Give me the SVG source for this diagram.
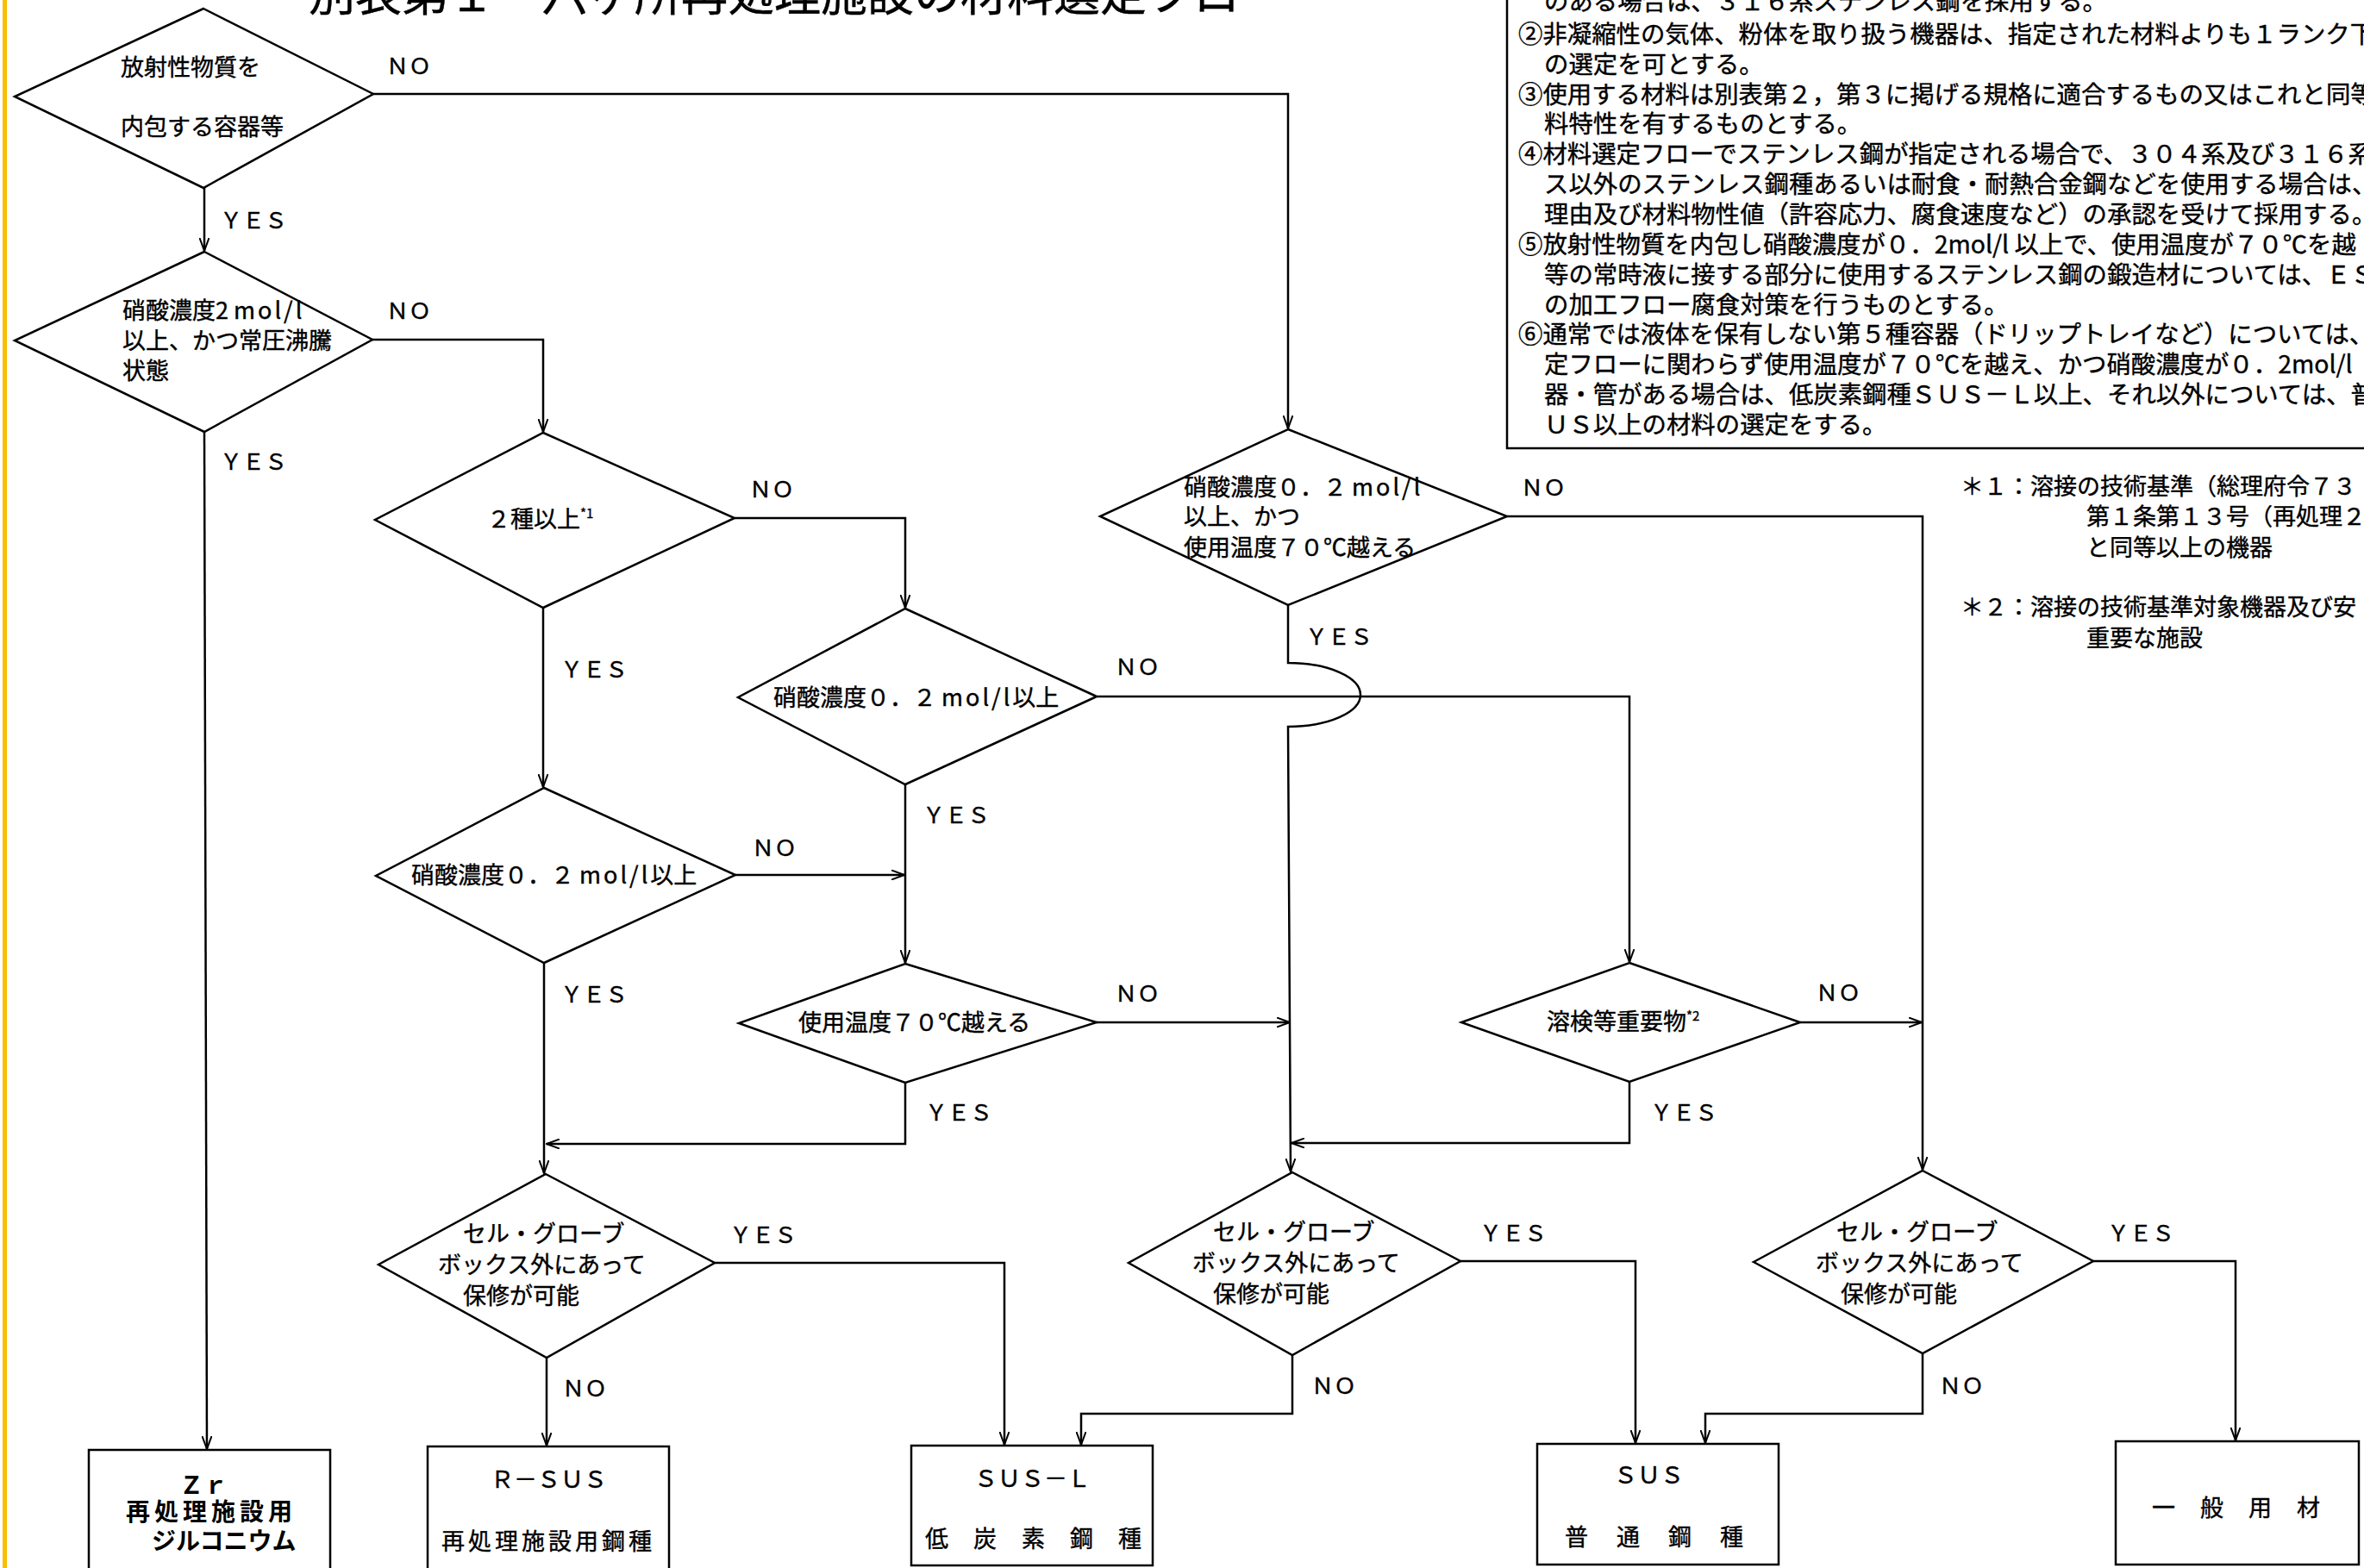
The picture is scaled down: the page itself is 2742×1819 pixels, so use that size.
<svg xmlns="http://www.w3.org/2000/svg" width="2742" height="1819" viewBox="0 0 2742 1819">
<style>
text{font-family:"Noto Sans CJK JP","Noto Sans CJK SC",sans-serif;fill:#000;font-size:27px;stroke:#000;stroke-width:0.4}
.d{fill:#fff;stroke:#000;stroke-width:2.5;stroke-linejoin:miter}
.b{fill:#fff;stroke:#000;stroke-width:2.5}
.c{fill:none;stroke:#000;stroke-width:2.5}
.ca{fill:none;stroke:#000;stroke-width:2.5;marker-end:url(#ah)}
.n{font-size:28.4px}
.l{font-size:26px}
.t{font-size:54px}
.sup{font-size:15px}
.ls{letter-spacing:3px}
.zr{font-size:28px;font-weight:bold;stroke-width:0}
</style>
<defs>
<marker id="ah" viewBox="0 0 16 12" refX="15" refY="6" markerWidth="16" markerHeight="12" orient="auto" markerUnits="userSpaceOnUse">
<path d="M0,0.5 L15,6 L0,11.5" fill="none" stroke="#000" stroke-width="2"/>
</marker>
</defs>
<rect x="0" y="0" width="2742" height="1819" fill="#fff"/>
<rect x="3" y="0" width="5" height="1819" fill="#F9BE00"/>

<g id="title"><text class="t" x="358" y="13">別表第１　六ヶ所再処理施設の材料選定フロー</text></g>

<g id="notes">
<rect class="b" x="1748" y="-5" width="1100" height="525"/>
<text class="n" x="1791" y="12">のある場合は、３１６系ステンレス鋼を採用する。</text>
<text class="n" x="1761" y="50">②非凝縮性の気体、粉体を取り扱う機器は、指定された材料よりも１ランク下</text>
<text class="n" x="1791" y="85">の選定を可とする。</text>
<text class="n" x="1761" y="120">③使用する材料は別表第２，第３に掲げる規格に適合するもの又はこれと同等</text>
<text class="n" x="1791" y="154">料特性を有するものとする。</text>
<text class="n" x="1761" y="189">④材料選定フローでステンレス鋼が指定される場合で、３０４系及び３１６系</text>
<text class="n" x="1791" y="224">ス以外のステンレス鋼種あるいは耐食・耐熱合金鋼などを使用する場合は、</text>
<text class="n" x="1791" y="259">理由及び材料物性値（許容応力、腐食速度など）の承認を受けて採用する。</text>
<text class="n" x="1761" y="294">⑤放射性物質を内包し硝酸濃度が０．2mol/l 以上で、使用温度が７０℃を越</text>
<text class="n" x="1791" y="329">等の常時液に接する部分に使用するステンレス鋼の鍛造材については、ＥＳ</text>
<text class="n" x="1791" y="364">の加工フロー腐食対策を行うものとする。</text>
<text class="n" x="1761" y="398">⑥通常では液体を保有しない第５種容器（ドリップトレイなど）については、</text>
<text class="n" x="1791" y="433">定フローに関わらず使用温度が７０℃を越え、かつ硝酸濃度が０．2mol/l</text>
<text class="n" x="1791" y="468">器・管がある場合は、低炭素鋼種ＳＵＳ－Ｌ以上、それ以外については、普</text>
<text class="n" x="1791" y="503">ＵＳ以上の材料の選定をする。</text>
</g>

<g id="footnotes">
<text x="2274" y="574">＊１：溶接の技術基準（総理府令７３</text>
<text x="2420" y="609">第１条第１３号（再処理２種機</text>
<text x="2420" y="645">と同等以上の機器</text>
<text x="2274" y="714">＊２：溶接の技術基準対象機器及び安</text>
<text x="2420" y="750">重要な施設</text>
</g>

<g id="connectors">
<path class="ca" d="M237,218 V291"/>
<path class="ca" d="M433,109 H1494 V497"/>
<path class="ca" d="M432,394 H630 V501"/>
<path class="ca" d="M237,501 L240,1681"/>
<path class="ca" d="M852,601 H1050 V705"/>
<path class="ca" d="M630,705 V913"/>
<path class="ca" d="M1272,808 H1890 V1116"/>
<path class="ca" d="M1050,910 V1117"/>
<path class="ca" d="M853,1015 H1049"/>
<path class="ca" d="M631,1117 V1361"/>
<path class="ca" d="M1272,1186 H1496"/>
<path class="ca" d="M1050,1256 V1327 H634"/>
<path class="ca" d="M1748,599 H2230 V1357"/>
<path class="ca" d="M1494,702 V769 A84,37 0 0 1 1494,843 L1497,1359"/>
<path class="ca" d="M2088,1186 H2229"/>
<path class="ca" d="M1890,1255 V1326 H1498"/>
<path class="ca" d="M829,1465 H1165 V1676"/>
<path class="ca" d="M634,1575 V1677"/>
<path class="ca" d="M1694,1463 H1897 V1674"/>
<path class="ca" d="M1499,1572 V1640 H1254 V1676"/>
<path class="ca" d="M2428,1463 H2593 V1671"/>
<path class="ca" d="M2230,1570 V1640 H1978 V1674"/>
</g>

<g id="labels">
<text class="l" x="448" y="86">ＮＯ</text>
<text class="l" x="255" y="265">ＹＥＳ</text>
<text class="l" x="448" y="370">ＮＯ</text>
<text class="l" x="255" y="545">ＹＥＳ</text>
<text class="l" x="869" y="577">ＮＯ</text>
<text class="l" x="650" y="786">ＹＥＳ</text>
<text class="l" x="1764" y="575">ＮＯ</text>
<text class="l" x="1514" y="748">ＹＥＳ</text>
<text class="l" x="1293" y="783">ＮＯ</text>
<text class="l" x="1070" y="955">ＹＥＳ</text>
<text class="l" x="872" y="993">ＮＯ</text>
<text class="l" x="650" y="1163">ＹＥＳ</text>
<text class="l" x="1293" y="1162">ＮＯ</text>
<text class="l" x="1073" y="1300">ＹＥＳ</text>
<text class="l" x="2106" y="1161">ＮＯ</text>
<text class="l" x="1914" y="1300">ＹＥＳ</text>
<text class="l" x="846" y="1442">ＹＥＳ</text>
<text class="l" x="652" y="1620">ＮＯ</text>
<text class="l" x="1716" y="1440">ＹＥＳ</text>
<text class="l" x="1521" y="1617">ＮＯ</text>
<text class="l" x="2444" y="1440">ＹＥＳ</text>
<text class="l" x="2249" y="1617">ＮＯ</text>
</g>

<g id="d1">
<polygon class="d" points="236,10 433,109 236,218 17,112"/>
<text x="140" y="88">放射性物質を</text>
<text x="140" y="157">内包する容器等</text>
</g>
<g id="d2">
<polygon class="d" points="237,292 432,394 237,501 17,395"/>
<text x="142" y="370">硝酸濃度2 <tspan class="ls">mol/l</tspan></text>
<text x="142" y="405">以上、かつ常圧沸騰</text>
<text x="142" y="440">状態</text>
</g>
<g id="d3">
<polygon class="d" points="1494,498 1748,599 1494,702 1276,599"/>
<text x="1373" y="575">硝酸濃度０．２ <tspan class="ls">mol/l</tspan></text>
<text x="1373" y="609">以上、かつ</text>
<text x="1373" y="645">使用温度７０℃越える</text>
</g>
<g id="d4">
<polygon class="d" points="630,502 852,601 630,705 435,603"/>
<text x="565" y="612">２種以上<tspan class="sup" dy="-11">*1</tspan></text>
</g>
<g id="d5">
<polygon class="d" points="1050,706 1272,808 1050,910 856,809"/>
<text x="897" y="819">硝酸濃度０．２ <tspan class="ls">mol/l</tspan>以上</text>
</g>
<g id="d6">
<polygon class="d" points="631,914 853,1015 631,1117 436,1016"/>
<text x="477" y="1025">硝酸濃度０．２ <tspan class="ls">mol/l</tspan>以上</text>
</g>
<g id="d7">
<polygon class="d" points="1050,1118 1272,1186 1050,1256 857,1187"/>
<text x="926" y="1196">使用温度７０℃越える</text>
</g>
<g id="d8">
<polygon class="d" points="1890,1117 2088,1186 1890,1255 1695,1186"/>
<text x="1794" y="1195">溶検等重要物<tspan class="sup" dy="-11">*2</tspan></text>
</g>
<g id="c1">
<polygon class="d" points="633,1362 829,1465 634,1575 439,1467"/>
<text x="537" y="1441">セル・グローブ</text>
<text x="508" y="1477">ボックス外にあって</text>
<text x="537" y="1513">保修が可能</text>
</g>
<g id="c2">
<polygon class="d" points="1499,1360 1694,1463 1499,1572 1309,1465"/>
<text x="1407" y="1439">セル・グローブ</text>
<text x="1383" y="1475">ボックス外にあって</text>
<text x="1407" y="1511">保修が可能</text>
</g>
<g id="c3">
<polygon class="d" points="2230,1358 2428,1463 2230,1570 2034,1464"/>
<text x="2130" y="1439">セル・グローブ</text>
<text x="2106" y="1475">ボックス外にあって</text>
<text x="2135" y="1511">保修が可能</text>
</g>

<g id="zr">
<rect class="b" x="103" y="1682" width="280" height="160"/>
<text class="zr" x="208" y="1733">Ｚｒ</text>
<text class="zr" x="146" y="1764" letter-spacing="5">再処理施設用</text>
<text class="zr" x="176" y="1798">ジルコニウム</text>
</g>
<g id="rsus">
<rect class="b" x="496" y="1678" width="280" height="160"/>
<text x="569" y="1726">Ｒ－ＳＵＳ</text>
<text x="512" y="1798" letter-spacing="4">再処理施設用鋼種</text>
</g>
<g id="susl">
<rect class="b" x="1057" y="1677" width="280" height="139"/>
<text x="1130" y="1725">ＳＵＳ－Ｌ</text>
<text x="1073" y="1795" letter-spacing="29">低炭素鋼種</text>
</g>
<g id="sus">
<rect class="b" x="1783" y="1675" width="280" height="140"/>
<text x="1872" y="1721">ＳＵＳ</text>
<text x="1815" y="1793" letter-spacing="33">普通鋼種</text>
</g>
<g id="ippan">
<rect class="b" x="2454" y="1672" width="282" height="143"/>
<text x="2496" y="1759" letter-spacing="29">一般用材</text>
</g>
</svg>
